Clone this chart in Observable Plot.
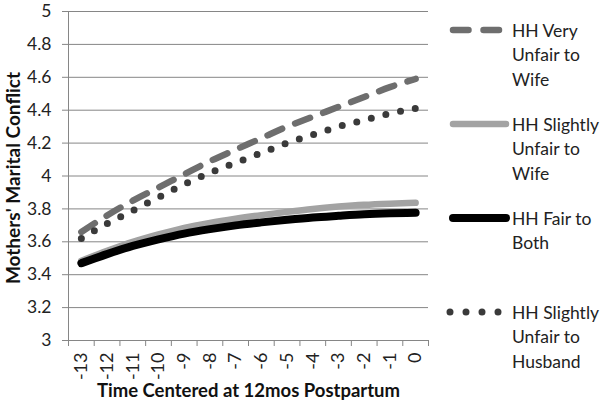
<!DOCTYPE html>
<html>
<head>
<meta charset="utf-8">
<script src="https://cdn.jsdelivr.net/npm/d3@7"></script>
<script src="https://cdn.jsdelivr.net/npm/@observablehq/plot@0.6"></script>
<style>
  html, body { margin: 0; padding: 0; background: #fff; }
  #wrap { position: relative; width: 600px; height: 406px; font-family: Lato, "Open Sans", sans-serif; }
  #legend { position: absolute; left: 0; top: 0; }
</style>
</head>
<body>
<div id="wrap"></div>
<script>
const categories = [-13, -12, -11, -10, -9, -8, -7, -6, -5, -4, -3, -2, -1, 0];
const veryUnfairWife = [3.66, 3.76, 3.85, 3.93, 4.01, 4.09, 4.16, 4.23, 4.30, 4.36, 4.42, 4.48, 4.54, 4.59];
const slightlyUnfairWife = [3.485, 3.545, 3.60, 3.645, 3.685, 3.715, 3.74, 3.762, 3.782, 3.80, 3.814, 3.825, 3.832, 3.837];
const fairBoth = [3.47, 3.525, 3.575, 3.615, 3.65, 3.677, 3.70, 3.718, 3.734, 3.748, 3.758, 3.767, 3.773, 3.777];
const slightlyUnfairHusband = [3.62, 3.71, 3.79, 3.87, 3.95, 4.02, 4.08, 4.14, 4.20, 4.25, 4.30, 4.34, 4.38, 4.41];
const yTicks = [3, 3.2, 3.4, 3.6, 3.8, 4, 4.2, 4.4, 4.6, 4.8, 5];
const seriesNames = ["HH Very\nUnfair to\nWife", "HH Slightly\nUnfair to\nWife", "HH Fair to\nBoth", "HH Slightly\nUnfair to\nHusband"];
const xTitle = "Time Centered at 12mos Postpartum";
const yTitle = "Mothers' Marital Conflict";

const seriesValues = [veryUnfairWife, slightlyUnfairWife, fairBoth, slightlyUnfairHusband];
const styles = [
  {stroke: "#6e6e6e", strokeWidth: 6.5, strokeDasharray: "16,14"},
  {stroke: "#a3a3a3", strokeWidth: 6.5, strokeDasharray: null},
  {stroke: "#000000", strokeWidth: 8, strokeDasharray: null},
  {stroke: "#3a3a3a", strokeWidth: 7, strokeDasharray: "0,15"}
];
const legendSamples = [
  {x1: 453, x2: 499, dash: "15.5,15"},
  {x1: 453, x2: 506, dash: null},
  {x1: 453, x2: 506, dash: null},
  {x1: 450, x2: 499, dash: "0,16"}
];
const data = seriesValues.map((vals, i) => categories.map((c, j) => ({x: c, y: vals[j], s: i})));
const boundaries = [...categories.map(c => c - 0.5), d3.max(categories) + 0.5];
const grid = "#868686";
const font = "Lato, 'Open Sans', sans-serif";

const plot = Plot.plot({
  width: 600,
  height: 406,
  marginLeft: 68,
  marginRight: 172,
  marginTop: 11,
  marginBottom: 66,
  style: {fontFamily: font, background: "transparent"},
  x: {type: "linear", domain: [d3.min(boundaries), d3.max(boundaries)]},
  y: {domain: [d3.min(yTicks), d3.max(yTicks)]},
  marks: [
    Plot.gridY(yTicks, {stroke: grid, strokeOpacity: 1, strokeWidth: 1}),
    Plot.axisY(yTicks, {tickSize: 6, tickPadding: 11, stroke: grid, fontSize: 17.5, fill: "#222", label: null, tickFormat: d => String(d)}),
    Plot.axisX(boundaries, {tickSize: 6, tickFormat: () => "", stroke: grid, label: null}),
    Plot.axisX(categories, {tickSize: 0, tickPadding: 12, tickRotate: -90, fontSize: 18, fill: "#222", label: null, tickFormat: d => String(d)}),
    Plot.ruleY([d3.min(yTicks)], {stroke: grid}),
    Plot.ruleX([d3.min(boundaries)], {stroke: grid}),
    ...data.map((d, i) => Plot.line(d, {x: "x", y: "y", curve: "monotone-x", strokeLinecap: "round", strokeLinejoin: "round", ...Object.fromEntries(Object.entries(styles[i]).filter(([k, v]) => v != null))})),
    Plot.text([xTitle], {frameAnchor: "bottom", dy: 56, fontSize: 18.5, fontWeight: "bold", fill: "#111"}),
    Plot.text([yTitle], {frameAnchor: "left", textAnchor: "middle", dx: -55, dy: 2, rotate: -90, fontSize: 19, fontWeight: "bold", fill: "#111"})
  ]
});
const wrap = document.getElementById("wrap");
wrap.appendChild(plot);

// Legend to the right of the plot
const legendY = [30, 124, 218, 312];
const ns = "http://www.w3.org/2000/svg";
const lg = document.createElementNS(ns, "svg");
lg.setAttribute("id", "legend");
lg.setAttribute("width", 600);
lg.setAttribute("height", 406);
seriesNames.forEach((name, i) => {
  const y = legendY[i];
  const st = styles[i];
  const smp = legendSamples[i];
  const ln = document.createElementNS(ns, "line");
  ln.setAttribute("x1", smp.x1);
  ln.setAttribute("x2", smp.x2);
  ln.setAttribute("y1", y);
  ln.setAttribute("y2", y);
  ln.setAttribute("stroke", st.stroke);
  ln.setAttribute("stroke-width", st.strokeWidth);
  ln.setAttribute("stroke-linecap", "round");
  if (smp.dash) ln.setAttribute("stroke-dasharray", smp.dash);
  lg.appendChild(ln);
  const t = document.createElementNS(ns, "text");
  t.setAttribute("x", 512);
  t.setAttribute("y", y + 6.5);
  t.setAttribute("font-size", 17.5);
  t.setAttribute("fill", "#222");
  t.setAttribute("font-family", font);
  name.split("\n").forEach((line, k) => {
    const ts = document.createElementNS(ns, "tspan");
    ts.setAttribute("x", 512);
    ts.setAttribute("dy", k === 0 ? 0 : 24.5);
    ts.textContent = line;
    t.appendChild(ts);
  });
  lg.appendChild(t);
});
wrap.appendChild(lg);
</script>
</body>
</html>
